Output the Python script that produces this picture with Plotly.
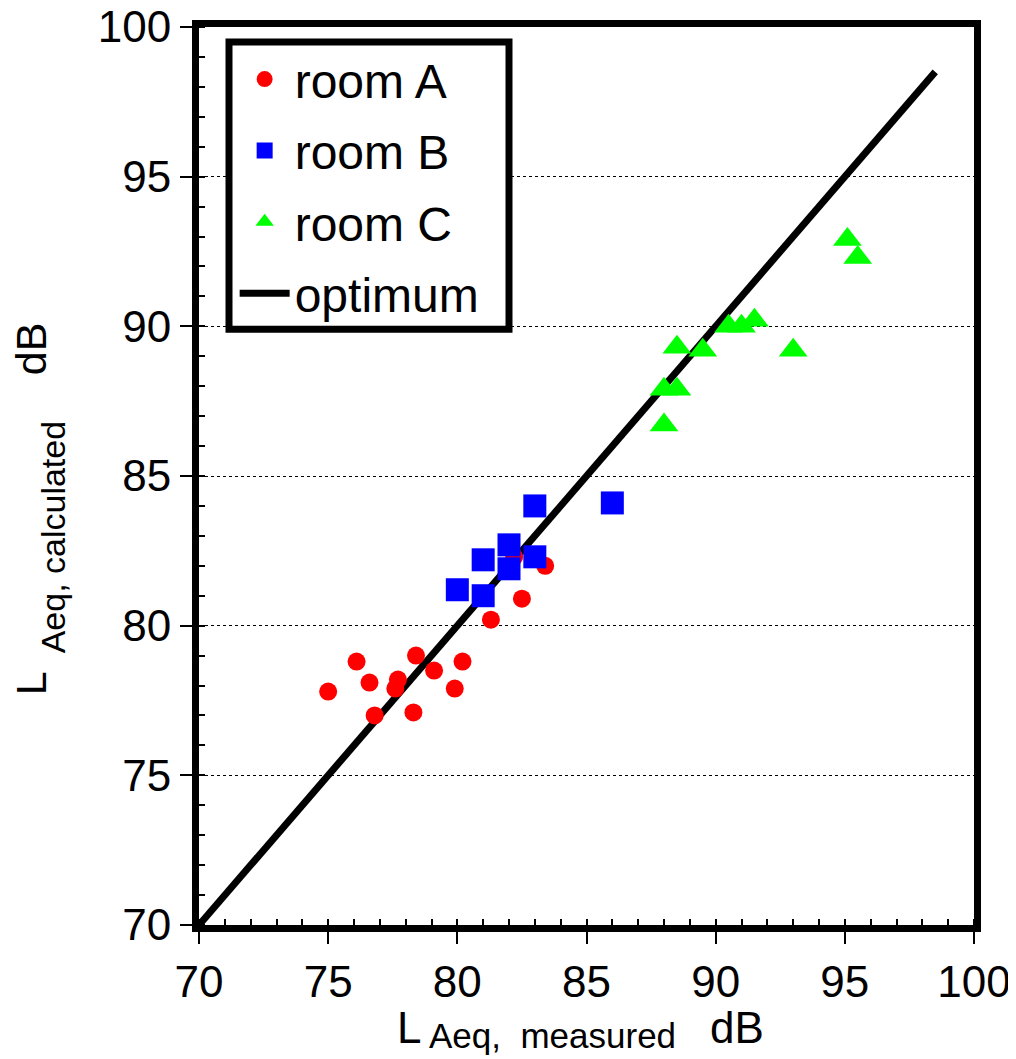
import plotly.graph_objects as go

# Room A (red circles)
a_meas = [75.0, 76.1, 76.6, 76.8, 77.7, 77.6, 78.4, 78.3, 79.1, 80.2, 79.9, 81.3, 82.5, 82.2, 83.4]
a_calc = [77.8, 78.8, 78.1, 77.0, 78.2, 77.9, 79.0, 77.1, 78.5, 78.8, 77.9, 80.2, 80.9, 82.3, 82.0]
# Room B (blue squares)
b_meas = [83.0, 86.0, 82.0, 82.0, 81.0, 83.0, 80.0, 81.0]
b_calc = [84.0, 84.1, 82.7, 81.9, 82.2, 82.3, 81.2, 81.0]
# Room C (green triangles)
c_meas = [95.1, 95.5, 90.5, 91.0, 91.5, 88.5, 89.5, 93.0, 88.0, 88.5, 88.0]
c_calc = [92.9, 92.3, 90.0, 90.0, 90.2, 89.3, 89.2, 89.2, 87.9, 87.9, 86.7]
# Optimum line
opt_x = [70, 98.5]
opt_y = [70, 98.5]

xticks = [70, 75, 80, 85, 90, 95, 100]
yticks = [70, 75, 80, 85, 90, 95, 100]

FONT = "Liberation Sans, Arial, sans-serif"

fig = go.Figure()
fig.add_trace(go.Scatter(x=opt_x, y=opt_y, mode="lines", name="optimum", legendgroup="d", legendrank=4,
                         line=dict(color="black", width=7)))
fig.add_trace(go.Scatter(x=a_meas, y=a_calc, mode="markers", name="room A", legendgroup="a", legendrank=1,
                         marker=dict(symbol="circle", size=18, color="#ff0000")))
fig.add_trace(go.Scatter(x=b_meas, y=b_calc, mode="markers", name="room B", legendgroup="b", legendrank=2,
                         marker=dict(symbol="square", size=23, color="#0000ff")))
fig.add_trace(go.Scatter(x=c_meas, y=c_calc, mode="markers", name="room C", legendgroup="c", legendrank=3,
                         marker=dict(symbol="triangle-up", size=25, color="#00ff00")))

# legend frame (paper coords)
fig.add_shape(type="rect", xref="paper", yref="paper",
              x0=(229 - 199) / 775, x1=(509 - 199) / 775,
              y0=(925 - 326) / 903, y1=(925 - 37) / 903,
              line=dict(color="black", width=7), fillcolor="white", layer="above")


def ann(text, x, y, size, angle=0, xanchor="center"):
    return dict(text=text, x=x, y=y, xref="paper", yref="paper", xanchor=xanchor, yanchor="middle",
                showarrow=False, textangle=angle, font=dict(family=FONT, size=size, color="black"))


fig.update_layout(
    width=1016, height=1059,
    margin=dict(l=191, r=50, t=19, b=142),
    paper_bgcolor="white", plot_bgcolor="white",
    showlegend=True,
    legend=dict(x=0.046, y=0.984, xanchor="left", yanchor="top",
                borderwidth=0, bgcolor="rgba(0,0,0,0)",
                font=dict(family=FONT, size=48, color="black"),
                tracegroupgap=6, traceorder="grouped", itemwidth=50),
    xaxis=dict(range=[70, 100], tickvals=xticks, ticktext=[str(v) for v in xticks],
               showline=True, linecolor="black", linewidth=7, mirror=True, automargin=False,
               ticks="outside", ticklen=12, tickwidth=2, tickcolor="black", ticklabeloverflow="allow",
               minor=dict(dtick=1, ticks="inside", ticklen=6, tickwidth=1.5, tickcolor="black", showgrid=False),
               showgrid=False, zeroline=False,
               tickfont=dict(family=FONT, size=44, color="black")),
    yaxis=dict(range=[70, 100], tickvals=yticks, ticktext=[str(v) for v in yticks],
               showline=True, linecolor="black", linewidth=7, mirror=True, automargin=False,
               ticks="outside", ticklen=12, tickwidth=2, tickcolor="black", ticklabeloverflow="allow",
               minor=dict(dtick=1, ticks="inside", ticklen=6, tickwidth=1.5, tickcolor="black", showgrid=False),
               showgrid=True, gridcolor="black", gridwidth=1.2, griddash="dot", zeroline=False,
               tickfont=dict(family=FONT, size=44, color="black")),
    annotations=[
        # x-axis title: L_{Aeq, measured} dB
        ann("L", 0.2529, -0.1146, 44, xanchor="left"),
        ann("Aeq,  measured", 0.2942, -0.1229, 35, xanchor="left"),
        ann("dB", 0.6568, -0.1146, 44, xanchor="left"),
        # y-axis title: L_{Aeq, calculated} dB
        ann("L", -0.2168, 0.2691, 43, angle=-90),
        ann("Aeq, calculated", -0.188, 0.432, 34, angle=-90),
        ann("dB", -0.2168, 0.6423, 43, angle=-90),
    ],
)

fig.write_html("out.html")
